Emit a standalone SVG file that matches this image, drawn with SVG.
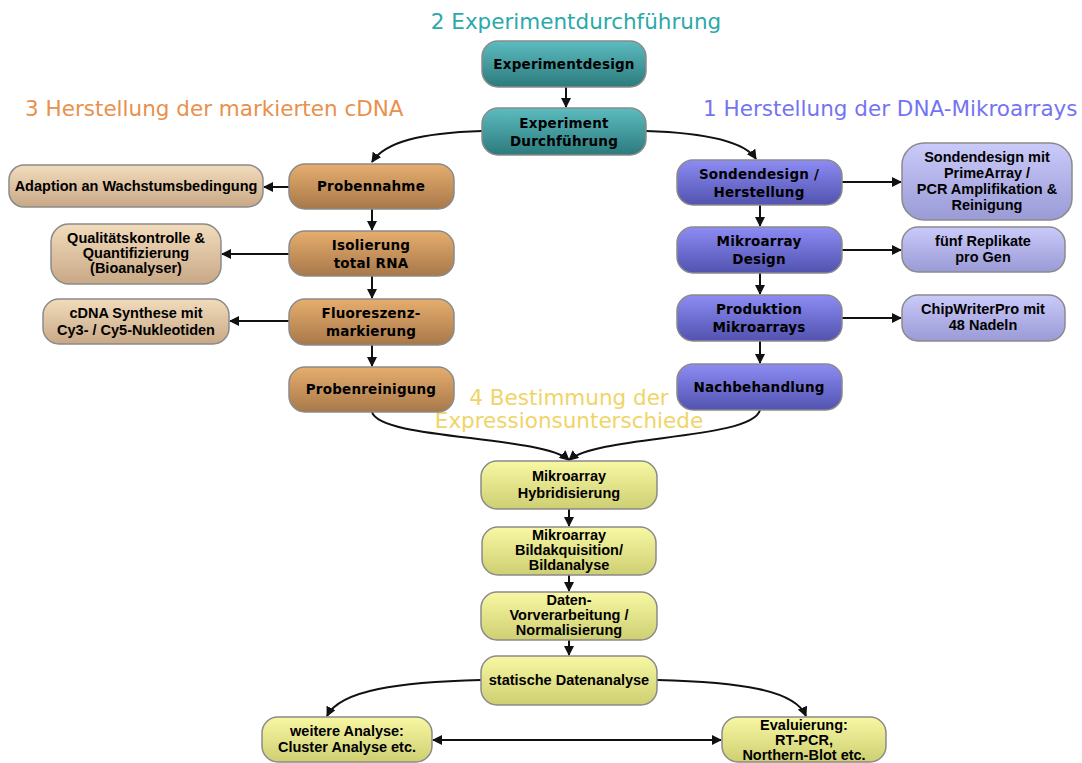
<svg xmlns="http://www.w3.org/2000/svg" width="1082" height="763" viewBox="0 0 1082 763">
<style>
.t{font-family:"DejaVu Sans",Verdana,sans-serif;font-size:21.5px}
.n{font-family:"DejaVu Sans",Verdana,sans-serif;font-size:13.5px;letter-spacing:0.2px;font-weight:bold;fill:#000;text-anchor:middle}
.s{font-family:"Liberation Sans",Arial,sans-serif;font-size:14.5px;font-weight:bold;fill:#000;text-anchor:middle}
.b{stroke:#8a8a8a;stroke-width:1.5}
.c{fill:none;stroke:#111;stroke-width:2;marker-end:url(#ah)}
</style>
<defs>
<marker id="ah" viewBox="0 0 10 10" refX="9" refY="5" markerWidth="5" markerHeight="5" orient="auto"><path d="M0,0 L10,5 L0,10 z" fill="#111"/></marker>
<marker id="as" viewBox="0 0 10 10" refX="1" refY="5" markerWidth="5" markerHeight="5" orient="auto"><path d="M10,0 L0,5 L10,10 z" fill="#111"/></marker>
<linearGradient id="gT" x1="0" y1="0" x2="0" y2="1"><stop offset="0" stop-color="#5cbcc0"/><stop offset="1" stop-color="#2c7a7c"/></linearGradient>
<linearGradient id="gO" x1="0" y1="0" x2="0" y2="1"><stop offset="0" stop-color="#e6ae6e"/><stop offset="1" stop-color="#a8784a"/></linearGradient>
<linearGradient id="gL" x1="0" y1="0" x2="0" y2="1"><stop offset="0" stop-color="#f2dcbc"/><stop offset="1" stop-color="#c8a886"/></linearGradient>
<linearGradient id="gP" x1="0" y1="0" x2="0" y2="1"><stop offset="0" stop-color="#8c8cf4"/><stop offset="1" stop-color="#5252b0"/></linearGradient>
<linearGradient id="gQ" x1="0" y1="0" x2="0" y2="1"><stop offset="0" stop-color="#cacafa"/><stop offset="1" stop-color="#9a9ad6"/></linearGradient>
<linearGradient id="gY" x1="0" y1="0" x2="0" y2="1"><stop offset="0" stop-color="#f8f8a4"/><stop offset="1" stop-color="#cece72"/></linearGradient>
</defs>
<rect width="1082" height="763" fill="#fff"/>
<g id="connectors">
<path class="c" d="M566,87 L566,107"/>
<path class="c" d="M482,131 C420,133 385,142 372,162"/>
<path class="c" d="M646,131 C710,133 745,142 756,159"/>
<path class="c" d="M372,209 L372,230"/>
<path class="c" d="M372,276 L372,298"/>
<path class="c" d="M372,345 L372,366"/>
<path class="c" d="M289,187 L264,187"/>
<path class="c" d="M289,254 L222,254"/>
<path class="c" d="M289,321 L230,321"/>
<path class="c" d="M760,205 L760,226"/>
<path class="c" d="M760,273 L760,294"/>
<path class="c" d="M760,341 L760,363"/>
<path class="c" d="M842,182 L901,182"/>
<path class="c" d="M842,250 L901,250"/>
<path class="c" d="M842,318 L901,318"/>
<path class="c" d="M372,412 C380,440 540,435 569,460"/>
<path class="c" d="M760,410 C752,440 598,435 569,460"/>
<path class="c" d="M569,509 L569,526"/>
<path class="c" d="M569,575 L569,591"/>
<path class="c" d="M569,640 L569,655"/>
<path class="c" d="M481,680 C400,682 340,690 327,716"/>
<path class="c" d="M657,680 C740,682 795,690 806,716"/>
<path class="c" d="M433,740 L721,740" marker-start="url(#as)"/>
</g>
<g id="titles">
<text class="t" x="576" y="29" text-anchor="middle" fill="#2aa9a9">2 Experimentdurchführung</text>
<text class="t" x="25" y="116" fill="#e8904c">3 Herstellung der markierten cDNA</text>
<text class="t" x="703" y="116" fill="#7474f2">1 Herstellung der DNA-Mikroarrays</text>
<text class="t" x="569" y="405" text-anchor="middle" fill="#f0d468">4 Bestimmung der</text>
<text class="t" x="569" y="428" text-anchor="middle" fill="#f0d468">Expressionsunterschiede</text>
</g>
<g id="n-experimentdesign"><rect class="b" x="482" y="41" width="164" height="46" rx="16" fill="url(#gT)"/><text class="n" x="564" y="69">Experimentdesign</text></g>
<g id="n-durchfuehrung"><rect class="b" x="482" y="108" width="164" height="47" rx="16" fill="url(#gT)"/><text class="n" x="564" y="128">Experiment</text><text class="n" x="564" y="146">Durchführung</text></g>
<g id="n-probennahme"><rect class="b" x="289" y="164" width="165" height="45" rx="16" fill="url(#gO)"/><text class="n" x="371" y="191">Probennahme</text></g>
<g id="n-adaption"><rect class="b" x="9" y="165" width="254" height="42" rx="15" fill="url(#gL)"/><text class="s" x="136" y="191">Adaption an Wachstumsbedingung</text></g>
<g id="n-isolierung"><rect class="b" x="289" y="231" width="165" height="45" rx="16" fill="url(#gO)"/><text class="n" x="371" y="250">Isolierung</text><text class="n" x="371" y="268">total RNA</text></g>
<g id="n-qualitaet"><rect class="b" x="51" y="224" width="170" height="60" rx="18" fill="url(#gL)"/><text class="s" x="136" y="243">Qualitätskontrolle &amp;</text><text class="s" x="136" y="258">Quantifizierung</text><text class="s" x="136" y="273">(Bioanalyser)</text></g>
<g id="n-fluoreszenz"><rect class="b" x="289" y="299" width="165" height="46" rx="16" fill="url(#gO)"/><text class="n" x="371" y="318">Fluoreszenz-</text><text class="n" x="371" y="336">markierung</text></g>
<g id="n-cdna"><rect class="b" x="43" y="299" width="186" height="45" rx="16" fill="url(#gL)"/><text class="s" x="136" y="318">cDNA Synthese mit</text><text class="s" x="136" y="335">Cy3- / Cy5-Nukleotiden</text></g>
<g id="n-probenreinigung"><rect class="b" x="289" y="367" width="165" height="45" rx="16" fill="url(#gO)"/><text class="n" x="371" y="394">Probenreinigung</text></g>
<g id="n-sondendesign"><rect class="b" x="677" y="160" width="165" height="45" rx="16" fill="url(#gP)"/><text class="n" x="759" y="179">Sondendesign /</text><text class="n" x="759" y="197">Herstellung</text></g>
<g id="n-primearray"><rect class="b" x="902" y="143" width="170" height="77" rx="22" fill="url(#gQ)"/><text class="s" x="987" y="162">Sondendesign mit</text><text class="s" x="987" y="178">PrimeArray /</text><text class="s" x="987" y="194">PCR Amplifikation &amp;</text><text class="s" x="987" y="210">Reinigung</text></g>
<g id="n-mikroarraydesign"><rect class="b" x="677" y="227" width="165" height="46" rx="16" fill="url(#gP)"/><text class="n" x="759" y="246">Mikroarray</text><text class="n" x="759" y="264">Design</text></g>
<g id="n-replikate"><rect class="b" x="902" y="227" width="163" height="45" rx="16" fill="url(#gQ)"/><text class="s" x="983" y="246">fünf Replikate</text><text class="s" x="983" y="262">pro Gen</text></g>
<g id="n-produktion"><rect class="b" x="677" y="295" width="165" height="46" rx="16" fill="url(#gP)"/><text class="n" x="759" y="314">Produktion</text><text class="n" x="759" y="332">Mikroarrays</text></g>
<g id="n-chipwriter"><rect class="b" x="902" y="295" width="163" height="46" rx="16" fill="url(#gQ)"/><text class="s" x="983" y="314">ChipWriterPro mit</text><text class="s" x="983" y="330">48 Nadeln</text></g>
<g id="n-nachbehandlung"><rect class="b" x="677" y="364" width="165" height="46" rx="16" fill="url(#gP)"/><text class="n" x="759" y="392">Nachbehandlung</text></g>
<g id="n-hybridisierung"><rect class="b" x="481" y="461" width="176" height="48" rx="16" fill="url(#gY)"/><text class="s" x="569" y="481">Mikroarray</text><text class="s" x="569" y="498">Hybridisierung</text></g>
<g id="n-bildakquisition"><rect class="b" x="482" y="527" width="174" height="48" rx="16" fill="url(#gY)"/><text class="s" x="569" y="540">Mikroarray</text><text class="s" x="569" y="555">Bildakquisition/</text><text class="s" x="569" y="570">Bildanalyse</text></g>
<g id="n-vorverarbeitung"><rect class="b" x="481" y="592" width="176" height="48" rx="16" fill="url(#gY)"/><text class="s" x="569" y="605">Daten-</text><text class="s" x="569" y="620">Vorverarbeitung /</text><text class="s" x="569" y="635">Normalisierung</text></g>
<g id="n-statistik"><rect class="b" x="481" y="656" width="176" height="49" rx="16" fill="url(#gY)"/><text class="s" x="569" y="685">statische Datenanalyse</text></g>
<g id="n-weitere"><rect class="b" x="262" y="717" width="170" height="45" rx="16" fill="url(#gY)"/><text class="s" x="347" y="736">weitere Analyse:</text><text class="s" x="347" y="752">Cluster Analyse etc.</text></g>
<g id="n-evaluierung"><rect class="b" x="722" y="717" width="164" height="45" rx="16" fill="url(#gY)"/><text class="s" x="804" y="730">Evaluierung:</text><text class="s" x="804" y="745">RT-PCR,</text><text class="s" x="804" y="760">Northern-Blot etc.</text></g>
</svg>
